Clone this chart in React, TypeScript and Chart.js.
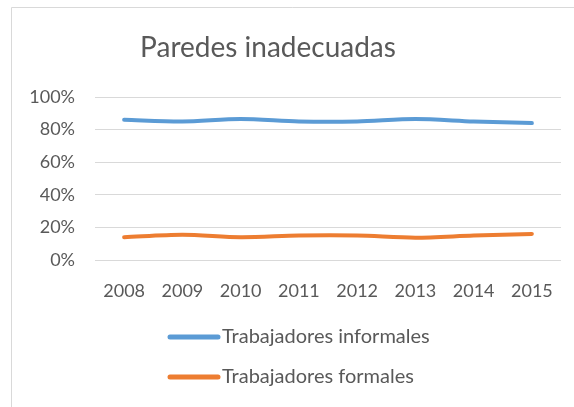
import React, { useEffect, useRef } from "react";
import { Chart, registerables } from "chart.js";

Chart.register(...registerables);

const years = ["2008", "2009", "2010", "2011", "2012", "2013", "2014", "2015"];
const informales = [86, 85, 86.5, 85, 85, 86.5, 85, 84];
const formales = [14, 15.5, 14, 15, 15, 13.7, 15, 16];
const yTicks = [0, 20, 40, 60, 80, 100];
const titleText = "Paredes inadecuadas";
const seriesNames = ["Trabajadores informales", "Trabajadores formales"];
const colors = ["#5B9BD5", "#ED7D31"];

const FONT = "Lato, 'Open Sans', sans-serif";

const decorPlugin = {
  id: "decor",
  beforeDraw(chart: any) {
    const ctx = chart.ctx;
    ctx.save();
    ctx.fillStyle = "#ffffff";
    ctx.fillRect(0, 0, chart.width, chart.height);
    ctx.strokeStyle = "#d9d9d9";
    ctx.lineWidth = 1;
    ctx.beginPath();
    ctx.moveTo(11.5, chart.height);
    ctx.lineTo(11.5, 7.5);
    ctx.lineTo(chart.width, 7.5);
    ctx.stroke();
    ctx.restore();
  },
  afterDraw(chart: any) {
    const ctx = chart.ctx;
    ctx.save();
    ctx.fillStyle = "#595959";
    ctx.font = `28px ${FONT}`;
    ctx.textAlign = "center";
    ctx.textBaseline = "middle";
    ctx.fillText(titleText, 268, 48);

    const items = [
      { y: 337, name: seriesNames[0], color: colors[0] },
      { y: 377, name: seriesNames[1], color: colors[1] },
    ];
    ctx.font = `20px ${FONT}`;
    ctx.textAlign = "left";
    items.forEach((it) => {
      ctx.strokeStyle = it.color;
      ctx.lineWidth = 5;
      ctx.lineCap = "round";
      ctx.beginPath();
      ctx.moveTo(170, it.y);
      ctx.lineTo(218, it.y);
      ctx.stroke();
      ctx.fillStyle = "#595959";
      ctx.fillText(it.name, 222, it.y);
    });
    ctx.restore();
  },
};

export default function App() {
  const ref = useRef<HTMLCanvasElement>(null);
  useEffect(() => {
    document.documentElement.style.overflow = "hidden";
    const chart = new Chart(ref.current!, {
      type: "line",
      data: {
        labels: years,
        datasets: [
          {
            label: seriesNames[0],
            data: informales,
            borderColor: colors[0],
            backgroundColor: colors[0],
            borderWidth: 4,
            pointRadius: 0,
            tension: 0.3,
            borderCapStyle: "round",
          },
          {
            label: seriesNames[1],
            data: formales,
            borderColor: colors[1],
            backgroundColor: colors[1],
            borderWidth: 4,
            pointRadius: 0,
            tension: 0.3,
            borderCapStyle: "round",
          },
        ],
      },
      options: {
        animation: false,
        responsive: false,
        layout: { padding: { left: 0, top: 97, right: 13, bottom: 97 } },
        plugins: {
          legend: { display: false },
          title: { display: false },
          tooltip: { enabled: false },
        },
        scales: {
          x: {
            offset: true,
            grid: { display: false },
            border: { display: false },
            ticks: {
              color: "#595959",
              font: { family: FONT, size: 18 },
              padding: 12,
              maxRotation: 0,
            },
            afterFit: (s: any) => {
              s.height = 50;
            },
          },
          y: {
            min: 0,
            max: 100,
            afterBuildTicks: (s: any) => {
              s.ticks = yTicks.map((v) => ({ value: v }));
            },
            grid: { color: "#d9d9d9", lineWidth: 1, drawTicks: false },
            border: { display: false },
            ticks: {
              color: "#595959",
              font: { family: FONT, size: 18 },
              padding: 20,
              callback: (v: any) => `${v}%`,
            },
            afterFit: (s: any) => {
              s.width = 95;
            },
          },
        },
      },
      plugins: [decorPlugin],
    });
    return () => chart.destroy();
  }, []);
  return (
    <canvas
      ref={ref}
      width={574}
      height={407}
      style={{ position: "fixed", left: 0, top: 0, width: 574, height: 407 }}
    />
  );
}
